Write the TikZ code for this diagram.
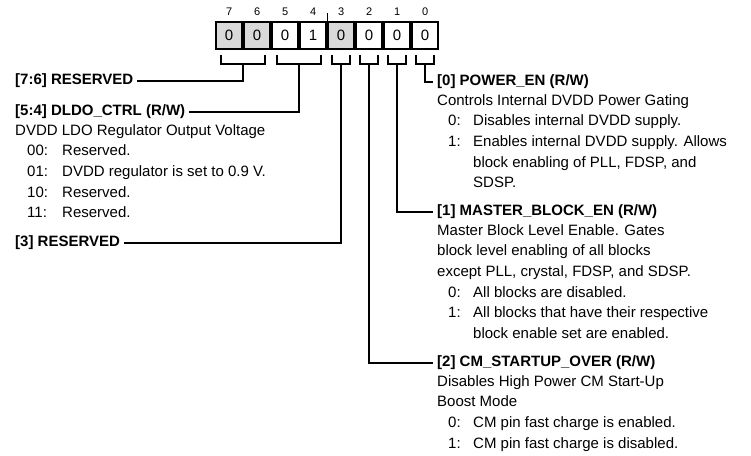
\documentclass[tikz,border=0pt]{standalone}
\usepackage{fontspec}
\setmainfont{Liberation Sans}
\usepackage{xcolor}
\usepackage{tikz}
\usetikzlibrary{positioning, calc}

\begin{document}
\begin{tikzpicture}[x=1pt, y=-1pt,
  bitbox/.style={rectangle, draw, line width=1.8pt, minimum width=26.2pt, minimum height=27pt, inner sep=0pt, font=\fontsize{15}{18}\selectfont},
  bitnum/.style={inner sep=0pt, font=\fontsize{11}{13}\selectfont},
  field/.style={anchor=west, inner xsep=4pt, inner ysep=2pt, font=\fontsize{15}{20.6}\selectfont\bfseries},
  desc/.style={anchor=base west, inner sep=0pt, align=left, font=\fontsize{15}{20.6}\selectfont},
  link/.style={line width=2pt},
]
\useasboundingbox (0,0) rectangle (751,455);

% register bits
\node[bitbox, fill=gray!30] (b7) at (229.1,35.5) {0};
\node[bitbox, fill=gray!30, right=0pt of b7] (b6) {0};
\node[bitbox, right=0pt of b6] (b5) {0};
\node[bitbox, right=0pt of b5] (b4) {1};
\node[bitbox, fill=gray!30, right=0pt of b4] (b3) {0};
\node[bitbox, right=0pt of b3] (b2) {0};
\node[bitbox, right=0pt of b2] (b1) {0};
\node[bitbox, right=0pt of b1] (b0) {0};

\node[bitnum, above=5pt of b7] (n7) {7};
\node[bitnum, above=5pt of b6] (n6) {6};
\node[bitnum, above=5pt of b5] (n5) {5};
\node[bitnum, above=5pt of b4] (n4) {4};
\node[bitnum, above=5pt of b3] (n3) {3};
\node[bitnum, above=5pt of b2] (n2) {2};
\node[bitnum, above=5pt of b1] (n1) {1};
\node[bitnum, above=5pt of b0] (n0) {0};

\coordinate (tick) at ($(b4.north east)+(0,-8)$);
\draw[line width=1.2pt] (b4.north east) -- (tick);

% brackets under the fields
\draw[link] ([xshift=6pt,yshift=-5pt]b7.south west) -- ++(0,9) -| ([xshift=-6pt,yshift=-5pt]b6.south east);
\draw[link] ([xshift=6pt,yshift=-5pt]b5.south west) -- ++(0,9) -| ([xshift=-6pt,yshift=-5pt]b4.south east);
\draw[link] ([xshift=5pt,yshift=-5pt]b3.south west) -- ++(0,9) -| ([xshift=-5pt,yshift=-5pt]b3.south east);
\draw[link] ([xshift=5pt,yshift=-5pt]b2.south west) -- ++(0,9) -| ([xshift=-5pt,yshift=-5pt]b2.south east);
\draw[link] ([xshift=5pt,yshift=-5pt]b1.south west) -- ++(0,9) -| ([xshift=-5pt,yshift=-5pt]b1.south east);
\draw[link] ([xshift=5pt,yshift=-5pt]b0.south west) -- ++(0,9) -| ([xshift=-5pt,yshift=-5pt]b0.south east);

\coordinate (s76) at ($(b7.south east)+(0,14)$);
\coordinate (s54) at ($(b5.south east)+(0,14)$);
\coordinate (s3) at ($(b3.south)+(0,14)$);
\coordinate (s2) at ($(b2.south)+(0,14)$);
\coordinate (s1) at ($(b1.south)+(0,14)$);
\coordinate (s0) at ($(b0.south)+(0,14)$);

% left column
\node[field] (rsv76) at (11,80.7) {[7:6] RESERVED};
\node[field] (dldo) at (11,112) {[5:4] DLDO\_CTRL (R/W)};
\node[desc] (dldod) at ($(dldo.base west)+(4,19.5)$) {\begin{tabular}[t]{@{\hspace*{12pt}}p{35pt}@{}l@{}}
\multicolumn{2}{@{}l@{}}{DVDD LDO Regulator Output Voltage}\\
00: & Reserved.\\
01: & DVDD regulator is set to 0.9 V.\\
10: & Reserved.\\
11: & Reserved.
\end{tabular}};
\node[field] (rsv3) at (11,243) {[3] RESERVED};

% right column
\node[field] (pwr) at (433,82) {[0] POWER\_EN (R/W)};
\node[desc] (pwrd) at ($(pwr.base west)+(4,19.5)$) {\begin{tabular}[t]{@{\hspace*{11pt}}p{25pt}@{}l@{}}
\multicolumn{2}{@{}l@{}}{Controls Internal DVDD Power Gating}\\
0: & Disables internal DVDD supply.\\
1: & Enables internal DVDD supply. Allows\\
 & block enabling of PLL, FDSP, and\\
 & SDSP.
\end{tabular}};
\node[field] (mbe) at (433,212) {[1] MASTER\_BLOCK\_EN (R/W)};
\node[desc] (mbed) at ($(mbe.base west)+(4,19.5)$) {\begin{tabular}[t]{@{\hspace*{11pt}}p{25pt}@{}l@{}}
\multicolumn{2}{@{}l@{}}{Master Block Level Enable. Gates}\\
\multicolumn{2}{@{}l@{}}{block level enabling of all blocks}\\
\multicolumn{2}{@{}l@{}}{except PLL, crystal, FDSP, and SDSP.}\\
0: & All blocks are disabled.\\
1: & All blocks that have their respective\\
 & block enable set are enabled.
\end{tabular}};
\node[field] (cmso) at (433,363) {[2] CM\_STARTUP\_OVER (R/W)};
\node[desc] (cmsod) at ($(cmso.base west)+(4,19.5)$) {\begin{tabular}[t]{@{\hspace*{11pt}}p{25pt}@{}l@{}}
\multicolumn{2}{@{}l@{}}{Disables High Power CM Start-Up}\\
\multicolumn{2}{@{}l@{}}{Boost Mode}\\
0: & CM pin fast charge is enabled.\\
1: & CM pin fast charge is disabled.
\end{tabular}};

% connectors
\draw[link] (s76) |- (rsv76);
\draw[link] (s54) |- (dldo);
\draw[link] (s3) |- (rsv3);
\draw[link] (s0) |- (pwr);
\draw[link] (s1) |- (mbe);
\draw[link] (s2) |- (cmso);
\end{tikzpicture}
\end{document}
